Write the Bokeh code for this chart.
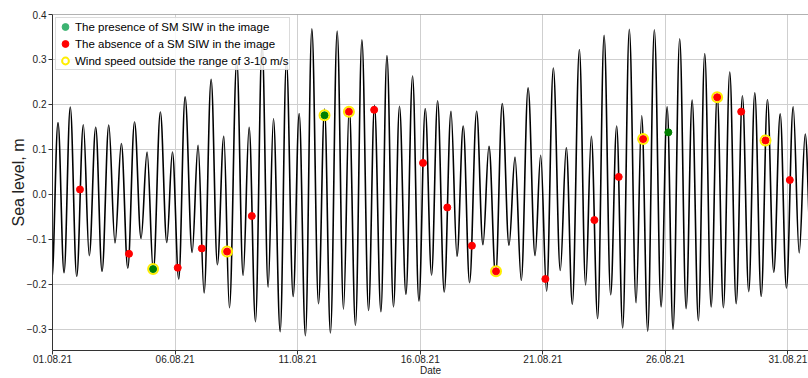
import numpy as np
from bokeh.plotting import figure
from bokeh.models import (FixedTicker, DatetimeTickFormatter, CustomJSTickFormatter,
                          Range1d, Legend, LegendItem, Span, ColumnDataSource)
from bokeh.embed import file_html
from bokeh.resources import INLINE

START = "2021-08-01T00:00"

# Successive high / low waters: hours after 01.08.21 00:00 and sea level (m)
ext_hours = [-0.7, 5.4, 11.3, 17.4, 23.7, 30.2, 36.0, 42.3, 48.5, 55.1,
             61.2, 67.4, 73.7, 80.3, 86.7, 92.6, 98.7, 105.6, 111.9, 117.4,
             123.6, 129.8, 136.7, 142.5, 148.4, 155.3, 161.4, 167.7, 173.2, 180.4,
             186.6, 192.5, 198.7, 205.2, 211.1, 216.3, 222.9, 229.0, 235.6, 241.5,
             247.6, 253.9, 260.4, 266.3, 272.1, 278.7, 284.9, 290.5, 296.6, 302.9,
             309.4, 315.2, 321.5, 327.4, 333.8, 339.7, 346.0, 352.5, 358.7, 364.9,
             371.1, 377.0, 383.5, 390.1, 396.0, 402.1, 408.3, 415.2, 421.4, 427.3,
             433.8, 440.3, 446.9, 452.8, 458.9, 465.6, 472.4, 477.9, 483.7, 490.3,
             497.1, 503.0, 508.9, 515.8, 521.9, 527.5, 533.7, 540.0, 546.4, 552.3,
             558.2, 564.7, 571.3, 576.8, 582.7, 589.2, 595.8, 601.7, 607.5, 614.0,
             620.3, 626.2, 632.3, 638.5, 644.8, 650.7, 656.8, 663.0, 669.3, 675.4,
             681.6, 687.5, 693.8, 699.9, 706.1, 712.4, 718.5, 725.1, 731.0, 736.9,
             743.0]
ext_level = [-0.19, 0.160, -0.174, 0.194, -0.182, 0.155, -0.136, 0.149, -0.171, 0.154,
             -0.108, 0.113, -0.164, 0.161, -0.098, 0.094, -0.171, 0.183, -0.107, 0.094,
             -0.188, 0.217, -0.129, 0.109, -0.219, 0.256, -0.156, 0.129, -0.252, 0.298,
             -0.180, 0.149, -0.283, 0.335, -0.206, 0.168, -0.305, 0.296, -0.227, 0.180,
             -0.314, 0.368, -0.243, 0.190, -0.308, 0.363, -0.255, 0.195, -0.291, 0.344,
             -0.258, 0.198, -0.261, 0.309, -0.250, 0.196, -0.222, 0.263, -0.237, 0.191,
             -0.179, 0.208, -0.217, 0.185, -0.138, 0.152, -0.196, 0.185, -0.112, 0.107,
             -0.182, 0.202, -0.113, 0.083, -0.191, 0.237, -0.136, 0.087, -0.215, 0.281,
             -0.169, 0.104, -0.244, 0.322, -0.201, 0.129, -0.276, 0.354, -0.223, 0.152,
             -0.297, 0.367, -0.241, 0.175, -0.304, 0.366, -0.250, 0.195, -0.300, 0.346,
             -0.254, 0.210, -0.281, 0.313, -0.250, 0.222, -0.252, 0.272, -0.243, 0.219,
             -0.216, 0.226, -0.227, 0.211, -0.173, 0.179, -0.208, 0.195, -0.130, 0.134,
             -0.150]

# Images with SM SIW present
siw_hours = [98.5, 266.3, 602.9]
siw_level = [-0.166, 0.176, 0.138]
# Images without SM SIW
no_hours = [26.9, 74.9, 122.6, 146.2, 170.9, 195.1, 290.2, 314.9, 362.7, 386.5,
            410.6, 434.2, 482.5, 530.5, 554.3, 578.2, 650.7, 674.2, 698.0, 721.8]
no_level = [0.011, -0.132, -0.163, -0.120, -0.127, -0.048, 0.184, 0.188, 0.070, -0.029,
            -0.114, -0.171, -0.188, -0.057, 0.039, 0.123, 0.216, 0.184, 0.120, 0.032]
# Images with wind speed outside 3-10 m/s
wind_hours = [98.5, 170.9, 266.3, 290.2, 434.2, 578.2, 650.7, 698.0]
wind_level = [-0.166, -0.127, 0.176, 0.184, -0.171, 0.123, 0.216, 0.120]

x_tick_dates = ["2021-08-01", "2021-08-06", "2021-08-11", "2021-08-16",
                "2021-08-21", "2021-08-26", "2021-08-31"]
y_ticks = [-0.3, -0.2, -0.1, 0.0, 0.1, 0.2, 0.3, 0.4]

legend_labels = ["The presence of SM SIW in the image",
                 "The absence of a SM SIW in the image",
                 "Wind speed outside the range of 3-10 m/s"]

FONT = "Liberation Sans"
t0 = np.datetime64(START).astype("datetime64[ms]").astype(np.float64)
HOUR = 3600000.0
X_END = t0 + 740.1 * HOUR
Y_MIN, Y_MAX = -0.347, 0.4


def to_ms(hours):
    return t0 + np.asarray(hours, dtype=float) * HOUR


p = figure(width=808, height=378, x_axis_type="datetime",
           x_range=Range1d(t0, X_END), y_range=Range1d(Y_MIN, Y_MAX),
           output_backend="svg", toolbar_location=None,
           min_border_left=52, min_border_right=0, min_border_top=14, min_border_bottom=0)
p.outline_line_color = None
p.background_fill_color = "white"

p.xgrid.grid_line_color = "#cfcfcf"
p.ygrid.grid_line_color = "#cfcfcf"
p.xgrid.grid_line_width = 1
p.ygrid.grid_line_width = 1

# tide curve: smooth segments between successive extremes
xs = to_ms(ext_hours)
ys = np.asarray(ext_level, dtype=float)
dx = xs[1:] - xs[:-1]
k = 0.364
curve = ColumnDataSource(dict(x0=xs[:-1], y0=ys[:-1], x1=xs[1:], y1=ys[1:],
                              cx0=xs[:-1] + k * dx, cy0=ys[:-1],
                              cx1=xs[1:] - k * dx, cy1=ys[1:]))
p.bezier(x0="x0", y0="y0", x1="x1", y1="y1", cx0="cx0", cy0="cy0", cx1="cx1", cy1="cy1",
         source=curve, line_color="black", line_width=1.6)

p.scatter(to_ms(wind_hours), wind_level, size=10, marker="circle",
          fill_color="white", line_color="#ffee00", line_width=2)
p.scatter(to_ms(no_hours), no_level, size=7, marker="circle",
          fill_color="red", line_color="red")
p.scatter(to_ms(siw_hours), siw_level, size=7, marker="circle",
          fill_color="green", line_color="green")


# legend-only glyphs (no visible point)
def legend_source():
    return ColumnDataSource(dict(x=[np.nan], y=[np.nan]))


lg_green = p.scatter("x", "y", source=legend_source(), marker="circle",
                     fill_color="#3cb371", line_color="#3cb371")
lg_red = p.scatter("x", "y", source=legend_source(), marker="circle",
                   fill_color="red", line_color="red")
lg_wind = p.scatter("x", "y", source=legend_source(), marker="circle",
                    fill_color="white", line_color="#ffee00", line_width=2)

legend = Legend(items=[LegendItem(label=legend_labels[0], renderers=[lg_green]),
                       LegendItem(label=legend_labels[1], renderers=[lg_red]),
                       LegendItem(label=legend_labels[2], renderers=[lg_wind])],
                location="top_left", margin=3, padding=0, spacing=-3,
                glyph_width=18, glyph_height=17, label_height=17, label_standoff=1,
                label_text_font=FONT, label_text_font_size="11.5px",
                label_text_color="black",
                border_line_color="#b8b8b8", border_line_width=1,
                background_fill_color="white", background_fill_alpha=0.85)
p.add_layout(legend)

p.add_layout(Span(location=Y_MAX, dimension="width", line_color="#666666", line_width=1))

# axes
p.xaxis.ticker = FixedTicker(ticks=[float(np.datetime64(d).astype("datetime64[ms]").astype(np.float64))
                                    for d in x_tick_dates])
fmt = "%d.%m.%y"
p.xaxis.formatter = DatetimeTickFormatter(microseconds=fmt, milliseconds=fmt, seconds=fmt,
                                          minsec=fmt, minutes=fmt, hourmin=fmt, hours=fmt,
                                          days=fmt, months=fmt, years=fmt)
p.yaxis.ticker = FixedTicker(ticks=y_ticks)
p.yaxis.formatter = CustomJSTickFormatter(code="return tick.toFixed(1).replace('-', '\\u2212');")

for ax in (p.xaxis[0], p.yaxis[0]):
    ax.axis_line_color = "#333333"
    ax.axis_line_width = 1
    ax.major_tick_line_color = "#333333"
    ax.major_tick_in = 0
    ax.major_tick_out = 4
    ax.minor_tick_line_color = None
    ax.major_label_text_font = FONT
    ax.major_label_text_font_size = "10px"
    ax.major_label_text_color = "#222222"
    ax.axis_label_text_font = FONT
    ax.axis_label_text_font_style = "normal"
    ax.axis_label_text_color = "#222222"

p.yaxis.major_label_standoff = 2
p.yaxis.axis_label = "Sea level, m"
p.yaxis.axis_label_text_font_size = "16px"
p.yaxis.axis_label_standoff = -3

p.xaxis.major_label_standoff = 0
p.xaxis.axis_label = "Date"
p.xaxis.axis_label_text_font_size = "10px"
p.xaxis.axis_label_standoff = -1

open("out.html", "w").write(file_html(p, INLINE))
